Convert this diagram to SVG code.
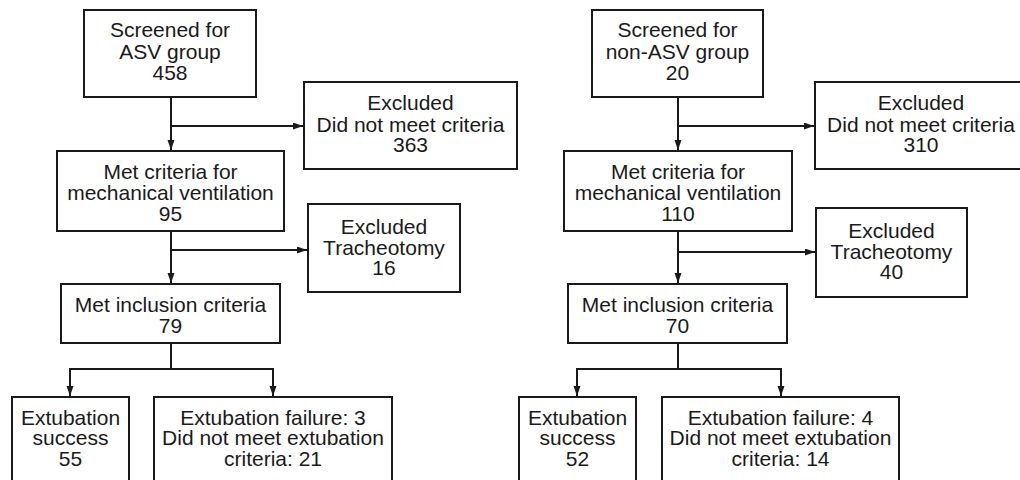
<svg xmlns="http://www.w3.org/2000/svg" width="1020" height="480" viewBox="0 0 1020 480">
<defs>
<style>
.box{fill:#fff;stroke:#1a1a1a;stroke-width:2}
.t{font-family:"Liberation Sans",Arial,sans-serif;font-size:21px;fill:#1a1a1a;text-anchor:middle}
.c{fill:none;stroke:#1a1a1a;stroke-width:2}
</style>
<marker id="ah" markerUnits="userSpaceOnUse" markerWidth="11" markerHeight="8" refX="10" refY="3.5" orient="auto">
<path d="M0,0 L10,3.5 L0,7 z" fill="#1a1a1a"/>
</marker>
</defs>
<rect width="1020" height="480" fill="#fff"/>

<g id="connectors">
<path class="c" d="M171,97 V150" marker-end="url(#ah)"/>
<path class="c" d="M171,126 H303" marker-end="url(#ah)"/>
<path class="c" d="M171,231 V283" marker-end="url(#ah)"/>
<path class="c" d="M171,250 H307" marker-end="url(#ah)"/>
<path class="c" d="M171,343 V369"/>
<path class="c" d="M70,369 H273"/>
<path class="c" d="M70,368 V396" marker-end="url(#ah)"/>
<path class="c" d="M273,368 V396" marker-end="url(#ah)"/>

<path class="c" d="M678,97 V150" marker-end="url(#ah)"/>
<path class="c" d="M678,126 H814" marker-end="url(#ah)"/>
<path class="c" d="M678,231 V283" marker-end="url(#ah)"/>
<path class="c" d="M678,252 H815" marker-end="url(#ah)"/>
<path class="c" d="M678,343 V369"/>
<path class="c" d="M577,369 H781"/>
<path class="c" d="M577,368 V396" marker-end="url(#ah)"/>
<path class="c" d="M781,368 V396" marker-end="url(#ah)"/>
</g>

<g id="screened-asv">
<rect class="box" x="84" y="10" width="172" height="87"/>
<text class="t" x="170" y="37">Screened for</text>
<text class="t" x="170" y="59">ASV group</text>
<text class="t" x="170" y="80">458</text>
</g>
<g id="excluded-asv-1">
<rect class="box" x="304" y="82" width="213" height="87"/>
<text class="t" x="410.5" y="110">Excluded</text>
<text class="t" x="410.5" y="132">Did not meet criteria</text>
<text class="t" x="410.5" y="152">363</text>
</g>
<g id="mv-asv">
<rect class="box" x="57" y="151" width="227" height="80"/>
<text class="t" x="170.5" y="179">Met criteria for</text>
<text class="t" x="170.5" y="200">mechanical ventilation</text>
<text class="t" x="170.5" y="221">95</text>
</g>
<g id="excluded-asv-2">
<rect class="box" x="308" y="204" width="152" height="88"/>
<text class="t" x="384" y="234">Excluded</text>
<text class="t" x="384" y="255">Tracheotomy</text>
<text class="t" x="384" y="275">16</text>
</g>
<g id="inclusion-asv">
<rect class="box" x="61" y="284" width="219" height="59"/>
<text class="t" x="170.5" y="312">Met inclusion criteria</text>
<text class="t" x="170.5" y="333">79</text>
</g>
<g id="success-asv">
<rect class="box" x="12" y="397" width="117" height="95"/>
<text class="t" x="70.5" y="425">Extubation</text>
<text class="t" x="70.5" y="445">success</text>
<text class="t" x="70.5" y="466">55</text>
</g>
<g id="failure-asv">
<rect class="box" x="154" y="397" width="238" height="95"/>
<text class="t" x="273" y="425">Extubation failure: 3</text>
<text class="t" x="273" y="445">Did not meet extubation</text>
<text class="t" x="273" y="466">criteria: 21</text>
</g>

<g id="screened-nonasv">
<rect class="box" x="592" y="10" width="171" height="87"/>
<text class="t" x="677.5" y="37">Screened for</text>
<text class="t" x="677.5" y="59">non-ASV group</text>
<text class="t" x="677.5" y="80">20</text>
</g>
<g id="excluded-nonasv-1">
<rect class="box" x="815" y="82" width="213" height="87"/>
<text class="t" x="921" y="110">Excluded</text>
<text class="t" x="921" y="132">Did not meet criteria</text>
<text class="t" x="921" y="152">310</text>
</g>
<g id="mv-nonasv">
<rect class="box" x="564" y="151" width="228" height="80"/>
<text class="t" x="678" y="179">Met criteria for</text>
<text class="t" x="678" y="200">mechanical ventilation</text>
<text class="t" x="678" y="221">110</text>
</g>
<g id="excluded-nonasv-2">
<rect class="box" x="816" y="208" width="151" height="89"/>
<text class="t" x="891.5" y="238">Excluded</text>
<text class="t" x="891.5" y="259">Tracheotomy</text>
<text class="t" x="891.5" y="279">40</text>
</g>
<g id="inclusion-nonasv">
<rect class="box" x="568" y="284" width="219" height="59"/>
<text class="t" x="677.5" y="312">Met inclusion criteria</text>
<text class="t" x="677.5" y="333">70</text>
</g>
<g id="success-nonasv">
<rect class="box" x="519" y="397" width="117" height="95"/>
<text class="t" x="577.5" y="425">Extubation</text>
<text class="t" x="577.5" y="445">success</text>
<text class="t" x="577.5" y="466">52</text>
</g>
<g id="failure-nonasv">
<rect class="box" x="662" y="397" width="237" height="95"/>
<text class="t" x="780.5" y="425">Extubation failure: 4</text>
<text class="t" x="780.5" y="445">Did not meet extubation</text>
<text class="t" x="780.5" y="466">criteria: 14</text>
</g>
</svg>
